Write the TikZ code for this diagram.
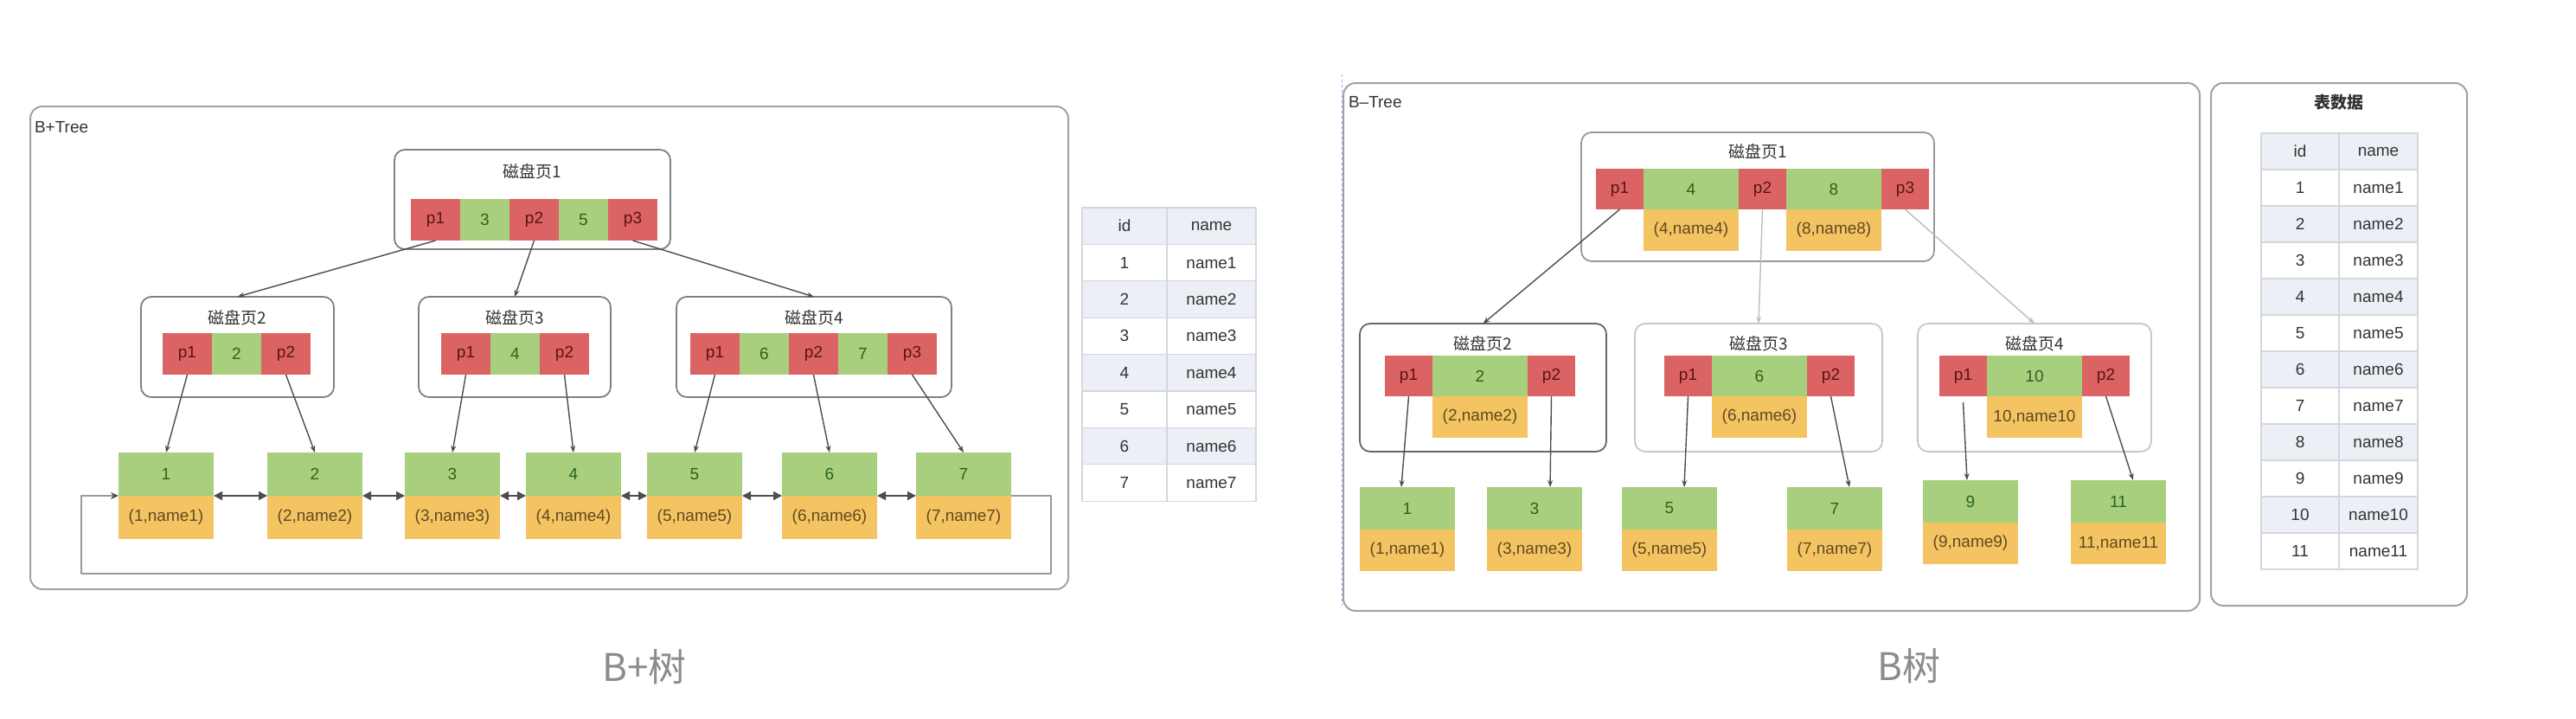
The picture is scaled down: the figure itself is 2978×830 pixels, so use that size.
\documentclass[tikz,border=0pt]{standalone}
\usepackage{fontspec}
\setmainfont{Liberation Sans}
\newfontfamily\cjk{Noto Sans CJK SC}
\usetikzlibrary{arrows.meta,positioning}
\definecolor{ptrred}{HTML}{DC6363}
\definecolor{keygreen}{HTML}{A7CF7E}
\definecolor{datorange}{HTML}{F5C462}
\definecolor{ptrtext}{HTML}{5A1414}
\definecolor{keytext}{HTML}{2B6320}
\definecolor{dattext}{HTML}{5E4A22}
\definecolor{framegray}{HTML}{A2A2A2}
\definecolor{linkgray}{HTML}{4D4D4D}
\definecolor{lightlink}{HTML}{BDBDBD}
\definecolor{rowblue}{HTML}{ECEFF5}
\definecolor{gridgray}{HTML}{D3D7DD}
\definecolor{capgray}{HTML}{8C8C8C}
\begin{document}
\begin{tikzpicture}[x=1pt,y=-1pt,line join=round,
  every node/.style={font=\fontsize{19}{22}\selectfont,inner sep=0pt,outer sep=0pt,text=black!80},
  frame/.style={draw=framegray,line width=2pt,rounded corners=14pt},
  page/.style={draw=black!50,line width=1.8pt,rounded corners=12pt},
  cell/.style={anchor=north west,minimum height=48pt},
  ptr/.style={cell,fill=ptrred,text=ptrtext,minimum width=57pt},
  key/.style={cell,fill=keygreen,text=keytext,minimum width=57pt},
  bptr/.style={ptr,minimum width=55pt,minimum height=47pt},
  bkey/.style={key,minimum width=110pt,minimum height=47pt},
  bdat/.style={cell,fill=datorange,text=dattext,minimum width=110pt},
  leafkey/.style={key,minimum width=110pt,minimum height=50pt},
  leafdat/.style={bdat,minimum height=50pt},
  link/.style={draw=linkgray,line width=1.4pt,-{Stealth[length=8pt,width=6pt]}},
  dlink/.style={draw=linkgray,line width=1.6pt,{Triangle[length=10pt,width=10pt]}-{Triangle[length=10pt,width=10pt]}},
  grid/.style={draw=gridgray,line width=1.2pt}]
\useasboundingbox (0,0) rectangle (2978,830);
\fill[white] (0,0) rectangle (2978,830);

% B+Tree
\draw[frame] (35,123) rectangle (1235,681);
\node[anchor=west] (plabel) at (40,147) {B+Tree};
\node[page,minimum width=319pt,minimum height=115pt] (pg1) at (615.5,230.5) {};
\node (pg1t) at (615.5,198) {\cjk 磁盘页1};
\node[ptr] (pg1a) at (475,230) {p1};
\node[key,right=0pt of pg1a] (pg1b) {3};
\node[ptr,right=0pt of pg1b] (pg1c) {p2};
\node[key,right=0pt of pg1c] (pg1d) {5};
\node[ptr,right=0pt of pg1d] (pg1e) {p3};
\foreach \n/\x/\w/\cx in {2/163/223/274.5,3/484/222/595,4/782/318/941}{
  \node[page,minimum width=\w pt,minimum height=116pt,anchor=north west] (pg\n) at (\x,343) {};
  \node (pg\n t) at (\cx,367) {\cjk 磁盘页\n};
}
\node[ptr] (pg2a) at (188,385) {p1};
\node[key,right=0pt of pg2a] (pg2b) {2};
\node[ptr,right=0pt of pg2b] (pg2c) {p2};
\node[ptr] (pg3a) at (510,385) {p1};
\node[key,right=0pt of pg3a] (pg3b) {4};
\node[ptr,right=0pt of pg3b] (pg3c) {p2};
\node[ptr] (pg4a) at (798,385) {p1};
\node[key,right=0pt of pg4a] (pg4b) {6};
\node[ptr,right=0pt of pg4b] (pg4c) {p2};
\node[key,right=0pt of pg4c] (pg4d) {7};
\node[ptr,right=0pt of pg4d] (pg4e) {p3};
\foreach \n/\x in {1/137,2/309,3/468,4/608,5/748,6/904,7/1059}{
  \node[leafkey] (pl\n) at (\x,523) {\n};
  \node[leafdat,below=0pt of pl\n] (pl\n d) {(\n,name\n)};
}
\draw[link] (pg1a.south) -- (pg2.north);
\draw[link] (pg1c.south) -- (pg3.north);
\draw[link] (pg1e.south) -- (pg4.north);
\draw[link] (pg2a.south) -- (pl1.north);
\draw[link] (pg2c.south) -- (pl2.north);
\draw[link] (pg3a.south) -- (pl3.north);
\draw[link] (pg3c.south) -- (pl4.north);
\draw[link] (pg4a.south) -- (pl5.north);
\draw[link] (pg4c.south) -- (pl6.north);
\draw[link] (pg4e.south) -- (pl7.north);
\foreach \a/\b in {1/2,2/3,3/4,4/5,5/6,6/7}
  \draw[dlink] (pl\a.south east) -- (pl\b.south west);
\coordinate (loopr) at (1215,663);
\coordinate (loopl) at (94,663);
\draw[draw=black!40,line width=2.6pt,-{Stealth[length=9pt,width=8pt,color=linkgray]}] (pl7.south east) -| (loopr) -- (loopl) |- (pl1.south west);

% table of the B+Tree
\foreach \i/\id/\nm in {0/id/name,1/1/name1,2/2/name2,3/3/name3,4/4/name4,5/5/name5,6/6/name6,7/7/name7}{
  \pgfmathsetmacro\yy{240+42.4*\i}
  \ifodd\i \def\rowfill{white}\else\def\rowfill{rowblue}\fi
  \draw[grid,fill=\rowfill] (1251,\yy) rectangle (1452,{\yy+42.4});
  \node (pid\i) at (1300,{\yy+21.2}) {\id};
  \node (pnm\i) at (1400.5,{\yy+21.2}) {\nm};
}
\draw[grid] (1349,240) -- (1349,579);

% B-Tree
\draw[frame] (1553,96) rectangle (2543,706);
\draw[draw=blue!35,line width=1pt,dash pattern=on 3pt off 3pt] (1551,86) -- (1551,700);
\node[anchor=west] (blabel) at (1559,118) {B--Tree};
\node[page,draw=black!40,minimum width=408pt,minimum height=149pt] (bg1) at (2032,227.5) {};
\node (bg1t) at (2032,175) {\cjk 磁盘页1};
\node[bptr] (bg1a) at (1845,195) {p1};
\node[bkey,right=0pt of bg1a] (bg1b) {4};
\node[bptr,right=0pt of bg1b] (bg1c) {p2};
\node[bkey,right=0pt of bg1c] (bg1d) {8};
\node[bptr,right=0pt of bg1d] (bg1e) {p3};
\node[bdat,below=0pt of bg1b] (bg1bd) {(4,name4)};
\node[bdat,below=0pt of bg1d] (bg1dd) {(8,name8)};
\foreach \n/\cx/\w/\col in {2/1714.5/285/black!60,3/2033/286/black!22,4/2352/270/black!22}{
  \node[page,draw=\col,minimum width=\w pt,minimum height=148pt] (bg\n) at (\cx,448) {};
  \node (bg\n t) at (\cx,397) {\cjk 磁盘页\n};
}
\foreach \n/\x/\k/\d in {2/1601/2/{(2,name2)},3/1924/6/{(6,name6)},4/2242/10/{10,name10}}{
  \node[bptr] (bg\n a) at (\x,411) {p1};
  \node[bkey,right=0pt of bg\n a] (bg\n b) {\k};
  \node[bptr,right=0pt of bg\n b] (bg\n c) {p2};
  \node[bdat,below=0pt of bg\n b] (bg\n bd) {\d};
}
\foreach \n/\x/\y/\d in {1/1572/563/{(1,name1)},3/1719/563/{(3,name3)},5/1875/563/{(5,name5)},7/2066/563/{(7,name7)},9/2223/555/{(9,name9)},11/2394/555/{11,name11}}{
  \node[bkey,minimum height=49pt] (bl\n) at (\x,\y) {\n};
  \node[bdat,below=0pt of bl\n] (bl\n d) {\d};
}
\draw[link] (bg1a.south) -- (bg2.north);
\draw[link,draw=lightlink] (bg1c.south) -- (bg3.north);
\draw[link,draw=lightlink] (bg1e.south) -- (bg4.north);
\draw[link] (bg2a.south) -- ([xshift=-7pt]bl1.north);
\draw[link] (bg2c.south) -- ([xshift=18pt]bl3.north);
\draw[link] (bg3a.south) -- ([xshift=17pt]bl5.north);
\draw[link] (bg3c.south) -- ([xshift=17pt]bl7.north);
\draw[link] ([yshift=-7pt]bg4a.south) -- ([xshift=-4pt]bl9.north);
\draw[link] (bg4c.south) -- ([xshift=17pt]bl11.north);

% table data
\draw[frame] (2556,96) rectangle (2852,700);
\node[font=\cjk\bfseries\fontsize{19}{22}\selectfont] (btitle) at (2704,118) {表数据};
\foreach \i/\id/\nm in {0/id/name,1/1/name1,2/2/name2,3/3/name3,4/4/name4,5/5/name5,6/6/name6,7/7/name7,8/8/name8,9/9/name9,10/10/name10,11/11/name11}{
  \pgfmathsetmacro\yy{154+42*\i}
  \ifodd\i \def\rowfill{white}\else\def\rowfill{rowblue}\fi
  \draw[grid,fill=\rowfill] (2614,\yy) rectangle (2795,{\yy+42});
  \node (bid\i) at (2659,{\yy+21}) {\id};
  \node (bnm\i) at (2749.5,{\yy+21}) {\nm};
}
\draw[grid] (2704,154) -- (2704,658);

% captions
\node[text=capgray,font=\cjk\fontsize{44}{50}\selectfont] (pcap) at (745,771) {B+树};
\node[text=capgray,font=\cjk\fontsize{44}{50}\selectfont] (bcap) at (2207,770) {B树};
\end{tikzpicture}
\end{document}
